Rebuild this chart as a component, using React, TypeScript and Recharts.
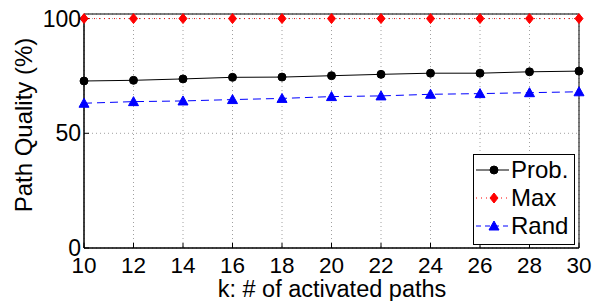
import React from 'react';
import { LineChart, Line, XAxis, YAxis, CartesianGrid, ReferenceArea } from 'recharts';

const kValues = [10, 12, 14, 16, 18, 20, 22, 24, 26, 28, 30];
const probValues = [72.8, 73.1, 73.7, 74.4, 74.5, 75.1, 75.7, 76.2, 76.2, 76.8, 77.1];
const maxValues = [100, 100, 100, 100, 100, 100, 100, 100, 100, 100, 100];
const randValues = [63.1, 63.8, 64.1, 64.7, 65.2, 66.0, 66.3, 67.0, 67.3, 67.7, 68.1];
const yTicks = [0, 50, 100];

const data = kValues.map((k, i) => ({
  k,
  prob: probValues[i],
  max: maxValues[i],
  rand: randValues[i],
}));

const FONT = '"Liberation Sans", Arial, sans-serif';

const Circle = (cx: number, cy: number, color: string) => <circle cx={cx} cy={cy} r={4} fill={color} stroke={color} />;
const Diamond = (cx: number, cy: number, color: string) => (
  <polygon points={`${cx},${cy - 5} ${cx + 4},${cy} ${cx},${cy + 5} ${cx - 4},${cy}`} fill={color} stroke={color} />
);
const Triangle = (cx: number, cy: number, color: string) => (
  <polygon points={`${cx},${cy - 5} ${cx + 5},${cy + 4} ${cx - 5},${cy + 4}`} fill={color} stroke={color} />
);

const series = [
  { key: 'prob', name: 'Prob.', color: '#000000', dash: undefined, marker: Circle },
  { key: 'max', name: 'Max', color: '#ff0000', dash: '1 4', marker: Diamond },
  { key: 'rand', name: 'Rand', color: '#0000ff', dash: '8 5', marker: Triangle },
];

// legend box drawn over the plot, like the matlab one
const LegendBox = () => (
  <div
    style={{
      position: 'absolute',
      left: 473,
      top: 154,
      width: 100,
      height: 88,
      border: '1px solid #000',
      background: '#fff',
      fontFamily: FONT,
      paddingTop: 1,
    }}
  >
    {series.map((s) => (
      <div key={s.key} style={{ display: 'flex', alignItems: 'center', height: 28 }}>
        <svg width={37} height={20} style={{ flex: 'none' }}>
          <line x1={2} y1={10} x2={35} y2={10} stroke={s.color} strokeDasharray={s.key === 'rand' ? '5 4' : s.dash} />
          {s.marker(20, 10, s.color)}
        </svg>
        <span style={{ fontSize: 24, color: '#000', lineHeight: '28px' }}>{s.name}</span>
      </div>
    ))}
  </div>
);

const emptyTick = () => <g />;

export default function App() {
  return (
    <div style={{ position: 'absolute', left: 0, top: 0, width: 596, height: 301, background: '#fff' }}>
      <LineChart width={596} height={301} data={data} margin={{ top: 14, right: 17, bottom: 0, left: 0 }}>
        <CartesianGrid stroke="#a0a0a0" strokeDasharray="1 3" />
        <XAxis
          dataKey="k"
          type="number"
          domain={[10, 30]}
          ticks={kValues}
          height={53}
          axisLine={{ stroke: '#000' }}
          tickLine={{ stroke: '#000' }}
          tickSize={-5}
          tickMargin={14}
          tick={{ fill: '#000', fontSize: 22.5, fontFamily: FONT }}
          interval={0}
          label={{
            content: () => (
              <text x={332} y={297} textAnchor="middle" fontSize={23.5} fontFamily={FONT} fill="#000">
                k: # of activated paths
              </text>
            ),
          }}
        />
        <XAxis
          xAxisId="top"
          orientation="top"
          type="number"
          domain={[10, 30]}
          ticks={kValues}
          height={0}
          axisLine={{ stroke: '#000' }}
          tickLine={{ stroke: '#000' }}
          tickSize={-5}
          tick={emptyTick}
          interval={0}
        />
        <YAxis
          type="number"
          domain={[0, 102]}
          ticks={yTicks}
          width={84}
          axisLine={{ stroke: '#000' }}
          tickLine={{ stroke: '#000' }}
          tickSize={-5}
          tickMargin={8}
          tick={{ fill: '#000', fontSize: 23, fontFamily: FONT }}
          interval={0}
          label={{
            content: () => (
              <text
                x={23}
                y={125}
                transform="rotate(-90 23 125)"
                textAnchor="middle"
                dominantBaseline="central"
                fontSize={24}
                fontFamily={FONT}
                fill="#000"
              >
                Path Quality (%)
              </text>
            ),
          }}
        />
        <YAxis
          yAxisId="right"
          orientation="right"
          type="number"
          domain={[0, 102]}
          ticks={yTicks}
          width={0}
          axisLine={{ stroke: '#000' }}
          tickLine={{ stroke: '#000' }}
          tickSize={-5}
          tick={emptyTick}
          interval={0}
        />
        <ReferenceArea x1={10} x2={30} y1={0} y2={102} fill="none" stroke="#000" strokeWidth={1} ifOverflow="visible" />
        {series.map((s) => (
          <Line
            key={s.key}
            dataKey={s.key}
            name={s.name}
            type="linear"
            stroke={s.color}
            strokeWidth={1}
            strokeDasharray={s.dash}
            isAnimationActive={false}
            dot={(p: any) => <g key={`${s.key}-${p.index}`}>{s.marker(p.cx, p.cy, s.color)}</g>}
            activeDot={false}
          />
        ))}
      </LineChart>
      <LegendBox />
    </div>
  );
}
